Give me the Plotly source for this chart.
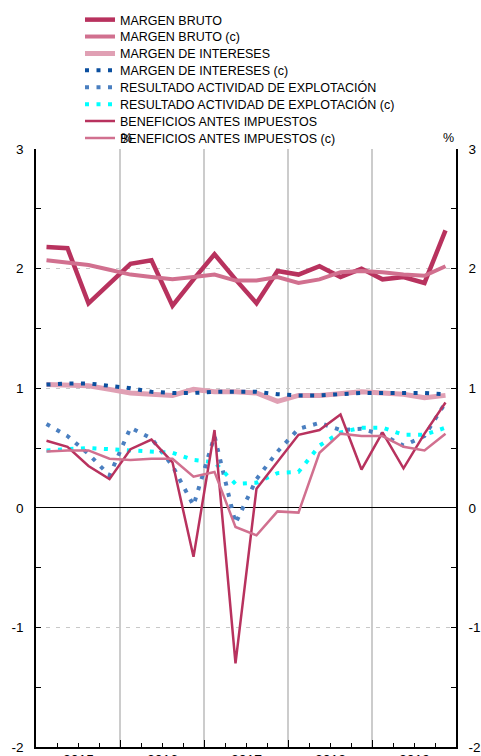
import plotly.graph_objects as go

# ---------------- data ----------------
years = ["2015", "2016", "2017", "2018", "2019"]
quarters = [f"{y}T{q}" for y in years for q in (1, 2, 3, 4)]

margen_bruto = [2.18, 2.17, 1.71, 1.87, 2.04, 2.07, 1.69, 1.91, 2.12, 1.91,
                1.71, 1.98, 1.95, 2.02, 1.93, 2.00, 1.91, 1.93, 1.88, 2.32]
margen_bruto_c = [2.07, 2.05, 2.03, 1.99, 1.95, 1.93, 1.91, 1.93, 1.95, 1.90,
                  1.90, 1.93, 1.88, 1.91, 1.97, 1.98, 1.97, 1.95, 1.94, 2.02]
margen_intereses = [1.03, 1.02, 1.02, 0.99, 0.96, 0.95, 0.94, 0.99, 0.97, 0.97,
                    0.96, 0.89, 0.94, 0.94, 0.96, 0.97, 0.96, 0.95, 0.92, 0.94]
margen_intereses_c = [1.03, 1.04, 1.04, 1.02, 1.00, 0.97, 0.96, 0.96, 0.97, 0.97,
                      0.97, 0.95, 0.94, 0.94, 0.95, 0.96, 0.96, 0.96, 0.96, 0.95]
resultado = [0.70, 0.60, 0.45, 0.27, 0.67, 0.58, 0.35, 0.02, 0.60, -0.13,
             0.24, 0.47, 0.66, 0.71, 0.65, 0.66, 0.61, 0.52, 0.60, 0.88]
resultado_c = [0.48, 0.49, 0.50, 0.49, 0.48, 0.47, 0.46, 0.40, 0.38, 0.20,
               0.21, 0.29, 0.30, 0.52, 0.63, 0.67, 0.67, 0.61, 0.61, 0.67]
beneficios = [0.56, 0.51, 0.35, 0.24, 0.49, 0.57, 0.38, -0.41, 0.65, -1.30,
              0.16, 0.39, 0.61, 0.65, 0.78, 0.32, 0.63, 0.33, 0.62, 0.88]
beneficios_c = [0.47, 0.48, 0.48, 0.41, 0.40, 0.41, 0.41, 0.26, 0.30, -0.16,
                -0.23, -0.03, -0.04, 0.46, 0.62, 0.60, 0.60, 0.51, 0.48, 0.62]

y_ticks = [-2, -1, 0, 1, 2, 3]

# ---------------- figure ----------------
W, H = 481, 756
ML, MR, MT, MB = 36, 25, 149, 9
PW, PH = W - ML - MR, H - MT - MB

xpos = [i + 0.5 for i in range(len(quarters))]

series = [
    ("MARGEN BRUTO", margen_bruto, "#b8325e", 4.5, "solid"),
    ("MARGEN BRUTO (c)", margen_bruto_c, "#d1708f", 4, "solid"),
    ("MARGEN DE INTERESES", margen_intereses, "#e0a0b4", 5, "solid"),
    ("MARGEN DE INTERESES (c)", margen_intereses_c, "#0b4f9f", 4, "4px,7.5px"),
    ("RESULTADO ACTIVIDAD DE EXPLOTACIÓN", resultado, "#4a7fc0", 4, "4px,7.5px"),
    ("RESULTADO ACTIVIDAD DE EXPLOTACIÓN (c)", resultado_c, "#00ffff", 4, "4px,7.5px"),
    ("BENEFICIOS ANTES IMPUESTOS", beneficios, "#b8325e", 2.5, "solid"),
    ("BENEFICIOS ANTES IMPUESTOS (c)", beneficios_c, "#d1708f", 2.5, "solid"),
]

FONT = "Arial, Liberation Sans, Helvetica, sans-serif"

fig = go.Figure()
legend_layouts = {}
row0, row_step = 20.0, 16.9  # legend row centres (px from top)
for k, (name, vals, color, w, dash) in enumerate(series):
    lname = "legend" if k == 0 else f"legend{k + 1}"
    fig.add_trace(go.Scatter(
        x=xpos, y=vals, name=name, mode="lines", legend=lname,
        line=dict(color=color, width=w, dash=dash),
        text=quarters, hoverinfo="text+y+name",
    ))
    ypx = row0 + row_step * k
    legend_layouts[lname] = dict(
        x=(80 - ML) / PW, xanchor="left",
        y=(H - MB - ypx) / PH, yanchor="middle",
        font=dict(size=12.5, color="black", family=FONT),
        bgcolor="rgba(0,0,0,0)", borderwidth=0,
    )

# dummy trace to create the right-hand axis
fig.add_trace(go.Scatter(x=[None], y=[None], yaxis="y2", showlegend=False,
                         hoverinfo="skip"))

yax = dict(
    range=[-2, 3], tickmode="array", tickvals=y_ticks,
    ticktext=[str(v) for v in y_ticks],
    ticks="inside", ticklen=5, tickwidth=1.2, tickcolor="black",
    showline=True, linecolor="black", linewidth=1.5,
    tickfont=dict(size=13.5, color="black", family=FONT),
    ticklabelstandoff=8, automargin=False,
    minor=dict(dtick=0.5, tick0=0, ticks="inside", ticklen=5, tickwidth=1.2,
               tickcolor="black", showgrid=False),
    fixedrange=True,
)

fig.update_layout(
    width=W, height=H,
    margin=dict(l=ML, r=MR, t=MT, b=MB, autoexpand=False),
    paper_bgcolor="white", plot_bgcolor="white",
    font=dict(family=FONT, color="black"),
    showlegend=True,
    xaxis=dict(
        range=[0, 20], tickmode="array",
        tickvals=[4 * k for k in range(len(years) + 1)],
        ticktext=["" for _ in range(len(years) + 1)],
        ticks="inside", ticklen=7, tickwidth=1.2, tickcolor="black",
        showgrid=True, gridcolor="#cccccc", gridwidth=1.5,
        showline=True, linecolor="black", linewidth=1.5,
        zeroline=False, automargin=False,
        minor=dict(dtick=1, tick0=0, ticks="inside", ticklen=4, tickwidth=1.2,
                   tickcolor="black", showgrid=False),
        fixedrange=True,
    ),
    yaxis=dict(**yax, side="left", showgrid=True, gridcolor="#c8c8c8",
               griddash="4px,6px", gridwidth=1,
               zeroline=True, zerolinecolor="black", zerolinewidth=1),
    yaxis2=dict(**yax, side="right", overlaying="y", showgrid=False,
                zeroline=False),
    **legend_layouts,
)

# year labels centred in each year (partly cut at the bottom edge)
for k, yr in enumerate(years):
    fig.add_annotation(x=4 * k + 2, y=0, xref="x", yref="paper", text=yr,
                       showarrow=False, yanchor="top", yshift=-3,
                       font=dict(size=14, color="black", family=FONT))

# unit labels
fig.add_annotation(x=(119 - ML) / PW, y=1.0, xref="paper", yref="paper", text="%",
                   showarrow=False, yanchor="middle", yshift=11,
                   font=dict(size=12.5, color="black", family=FONT))
fig.add_annotation(x=1.0, y=1.0, xref="paper", yref="paper", text="%",
                   showarrow=False, yanchor="middle", yshift=11,
                   font=dict(size=12.5, color="black", family=FONT))

fig.write_html(
    "out.html",
    config={"displayModeBar": False},
    post_script="document.body.style.margin='0';document.body.style.overflow='hidden';",
)
